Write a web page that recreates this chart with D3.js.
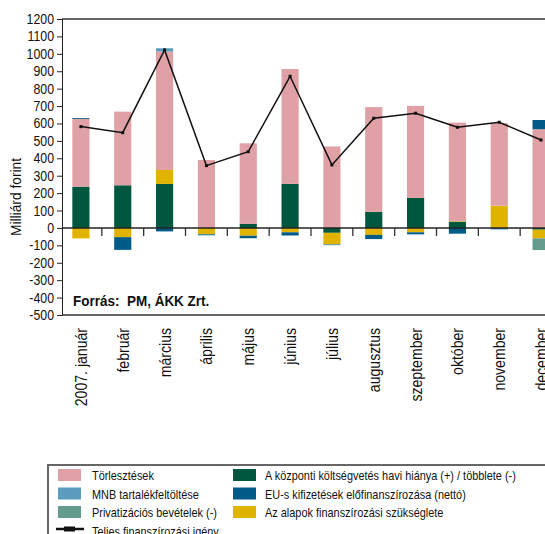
<!DOCTYPE html>
<html>
<head>
<meta charset="utf-8">
<script src="https://cdn.jsdelivr.net/npm/d3@7"></script>
<style>
  body { margin: 0; background: #fff; }
  svg { font-family: "Liberation Sans", Arial, sans-serif; }
</style>
</head>
<body>
<svg id="chart" width="545" height="534"></svg>
<script>
const months = ["2007. január", "február", "március", "április", "május", "június",
    "július", "augusztus", "szeptember", "október", "november", "december"];

// Milliárd forint
const kozponti = [237, 245, 253, 0, 23, 253, -28, 93, 172, 36, -3, -10];
const alapok = [-60, -53, 80, -36, -45, -25, -65, -40, -25, 3, 128, -50];
const torlesztesek = [389, 423, 680, 390, 463, 660, 468, 601, 529, 566, 474, 567];
const eu = [5, -73, -20, -4, -14, -18, -3, -24, -10, -33, -3, 53];
const mnb = [0, 0, 19, -3, 0, -2, 0, 0, -3, 0, -3, 0];
const privat = [0, 0, 0, 0, 0, 0, -3, 0, 0, 0, 0, -67];
const teljes = [582, 547, 1022, 358, 438, 871, 362, 630, 659, 578, 607, 505];

const yTicks = [1200, 1100, 1000, 900, 800, 700, 600, 500, 400, 300, 200, 100, 0,
    -100, -200, -300, -400, -500];

const series = [
    {key: "kozponti", values: kozponti, color: "#00573f", label: "A központi költségvetés havi hiánya (+) / többlete (-)"},
    {key: "alapok", values: alapok, color: "#dfb300", label: "Az alapok finanszírozási szükséglete"},
    {key: "torlesztesek", values: torlesztesek, color: "#dfa0a6", label: "Törlesztések"},
    {key: "eu", values: eu, color: "#005b87", label: "EU-s kifizetések előfinanszírozása (nettó)"},
    {key: "mnb", values: mnb, color: "#5b9cbf", label: "MNB tartalékfeltöltése"},
    {key: "privat", values: privat, color: "#659b8c", label: "Privatizációs bevételek (-)"}
];

const svg = d3.select("#chart");
const plotL = 62, plotR = 545, plotT = 19, plotB = 315;
const narrow = 0.88; // the original uses a condensed face

const x = d3.scaleBand().domain(months).range([60, 562]).padding(0);
const y = d3.scaleLinear().domain([-500, 1200]).range([plotB, plotT]);
const barW = x.bandwidth() * 0.41;

const table = months.map((m, i) => {
    const row = {month: m};
    series.forEach(s => row[s.key] = s.values[i]);
    return row;
});

const stack = d3.stack()
    .keys(series.map(s => s.key))
    .offset(d3.stackOffsetDiverging);
const layers = stack(table);

// frame lines
svg.append("line").attr("x1", plotL).attr("x2", plotR).attr("y1", plotT).attr("y2", plotT)
    .attr("stroke", "#666").attr("stroke-width", 2);
svg.append("line").attr("x1", plotL).attr("x2", plotR).attr("y1", plotB).attr("y2", plotB)
    .attr("stroke", "#666").attr("stroke-width", 2);

// bars
layers.forEach((layer, li) => {
    svg.append("g")
        .selectAll("rect")
        .data(layer)
        .enter().append("rect")
        .attr("x", d => x(d.data.month) + (x.bandwidth() - barW) / 2)
        .attr("y", d => y(Math.max(d[0], d[1])))
        .attr("width", barW)
        .attr("height", d => Math.abs(y(d[0]) - y(d[1])))
        .attr("fill", series[li].color);
});

// y axis
const yAxis = svg.append("g")
    .attr("transform", `translate(${plotL},0)`)
    .call(d3.axisLeft(y).tickValues(yTicks).tickSize(5).tickPadding(3).tickFormat(d => String(d)));
yAxis.select(".domain").attr("stroke", "#222");
yAxis.selectAll(".tick line").attr("stroke", "#222");
yAxis.selectAll("text")
    .attr("font-size", 14).attr("fill", "#111")
    .attr("font-family", "'Liberation Sans', Arial, sans-serif")
    .attr("x", 0)
    .attr("transform", `translate(-8,0) scale(${narrow},1)`);

// zero line with ticks between months
svg.append("line").attr("x1", plotL).attr("x2", plotR).attr("y1", y(0)).attr("y2", y(0))
    .attr("stroke", "#222").attr("stroke-width", 1.5);
svg.append("g")
    .selectAll("line")
    .data(months.slice(1))
    .enter().append("line")
    .attr("x1", d => x(d)).attr("x2", d => x(d))
    .attr("y1", y(0)).attr("y2", y(0) + 8)
    .attr("stroke", "#333").attr("stroke-width", 1.3);

// month labels
svg.append("g")
    .selectAll("text")
    .data(months)
    .enter().append("text")
    .attr("transform", d => `translate(${x(d) + x.bandwidth() / 2 + 6},328) rotate(-90) scale(${narrow},1)`)
    .attr("text-anchor", "end")
    .attr("font-size", 16)
    .attr("fill", "#111")
    .text(d => d);

// total line
const line = d3.line()
    .x((d, i) => x(months[i]) + x.bandwidth() / 2)
    .y(d => y(d));
svg.append("path")
    .datum(teljes)
    .attr("d", line)
    .attr("fill", "none")
    .attr("stroke", "#111")
    .attr("stroke-width", 1.5);
svg.append("g")
    .selectAll("rect")
    .data(teljes)
    .enter().append("rect")
    .attr("x", (d, i) => x(months[i]) + x.bandwidth() / 2 - 1.5)
    .attr("y", d => y(d) - 1.5)
    .attr("width", 3).attr("height", 3)
    .attr("fill", "#111");

// axis title
svg.append("text")
    .attr("transform", `translate(21,197) rotate(-90) scale(0.92,1)`)
    .attr("text-anchor", "middle")
    .attr("font-size", 15)
    .attr("fill", "#111")
    .text("Milliárd forint");

svg.append("text")
    .attr("transform", `translate(73,306) scale(0.9,1)`)
    .attr("font-size", 15)
    .attr("font-weight", "bold")
    .attr("fill", "#111")
    .style("white-space", "pre")
    .text("Forrás:  PM, ÁKK Zrt.");

// legend
const legend = svg.append("g");
legend.append("rect")
    .attr("x", 48).attr("y", 465).attr("width", 520).attr("height", 100)
    .attr("fill", "none").attr("stroke", "#666").attr("stroke-width", 2);

const legendItems = [
    {s: series[2], col: 0, row: 0},
    {s: series[4], col: 0, row: 1},
    {s: series[5], col: 0, row: 2},
    {s: series[0], col: 1, row: 0},
    {s: series[3], col: 1, row: 1},
    {s: series[1], col: 1, row: 2}
];
const colX = [58, 233], textX = [92, 265];
legendItems.forEach(it => {
    const yy = 469 + it.row * 18.5;
    legend.append("rect")
        .attr("x", colX[it.col]).attr("y", yy)
        .attr("width", 23).attr("height", 12)
        .attr("fill", it.s.color);
    legend.append("text")
        .attr("transform", `translate(${textX[it.col]},${yy + 11}) scale(0.84,1)`)
        .attr("font-size", 13)
        .attr("fill", "#111")
        .text(it.s.label);
});
legend.append("line")
    .attr("x1", 56).attr("x2", 84).attr("y1", 529).attr("y2", 529)
    .attr("stroke", "#111").attr("stroke-width", 2.5);
legend.append("rect")
    .attr("x", 64).attr("y", 526.5).attr("width", 11).attr("height", 5)
    .attr("fill", "#111");
legend.append("text")
    .attr("transform", `translate(92,535.5) scale(0.84,1)`)
    .attr("font-size", 13)
    .attr("fill", "#111")
    .text("Teljes finanszírozási igény");
</script>
</body>
</html>
